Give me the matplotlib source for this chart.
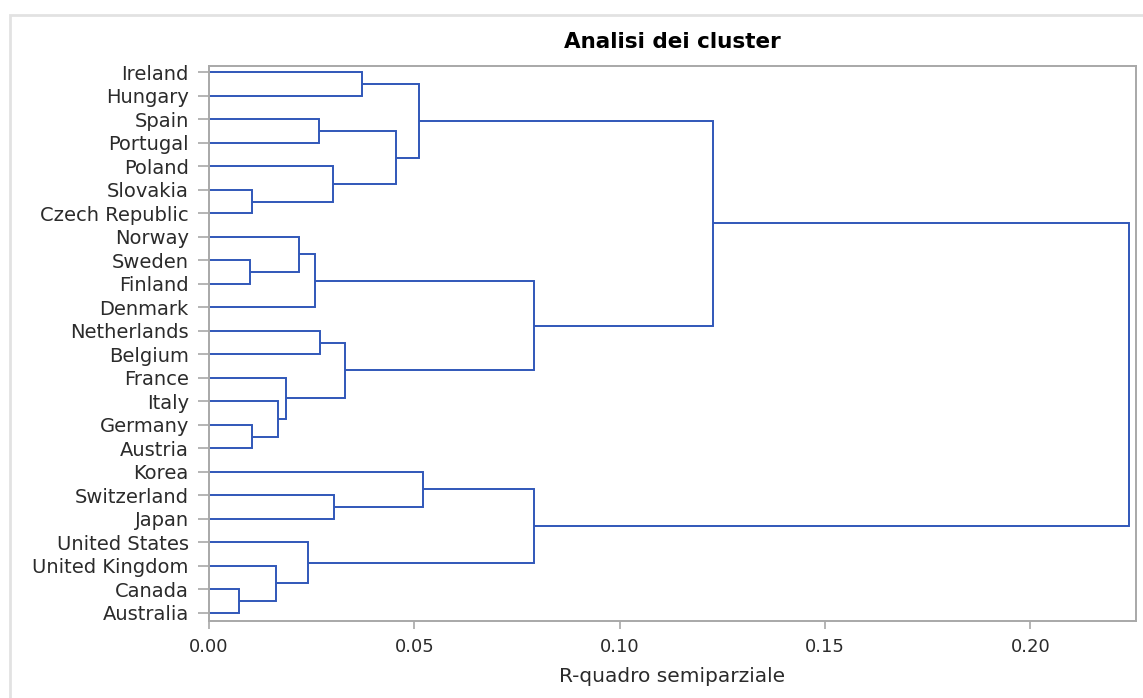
import matplotlib
matplotlib.use("Agg")
import matplotlib.pyplot as plt
from matplotlib.patches import Rectangle

# foglie, dall'alto in basso
leaves = ["Ireland", "Hungary", "Spain", "Portugal", "Poland", "Slovakia",
          "Czech Republic", "Norway", "Sweden", "Finland", "Denmark",
          "Netherlands", "Belgium", "France", "Italy", "Germany", "Austria",
          "Korea", "Switzerland", "Japan", "United States", "United Kingdom",
          "Canada", "Australia"]

# fusioni: (membro a, membro b, R-quadro semiparziale)
merge_a = ["Slovakia", "Sweden", "Germany", "Canada", "United Kingdom", "Italy",
           "France", "Norway", "United States", "C8", "Spain", "Netherlands",
           "Poland", "Switzerland", "C12", "Ireland", "C11", "C16", "Korea",
           "C10", "C19", "C18", "C22"]
merge_b = ["Czech Republic", "Finland", "Austria", "Australia", "C4", "C3",
           "C6", "C2", "C5", "Denmark", "Portugal", "Belgium", "C1", "Japan",
           "C7", "Hungary", "C13", "C17", "C14", "C15", "C9", "C20", "C21"]
merge_h = [0.0105, 0.0101, 0.0105, 0.0074, 0.0162, 0.0167, 0.0188, 0.0218,
           0.0240, 0.0258, 0.0267, 0.0271, 0.0302, 0.0304, 0.0332, 0.0372,
           0.0455, 0.0512, 0.0521, 0.0792, 0.0792, 0.1228, 0.2240]

xticks = [0.00, 0.05, 0.10, 0.15, 0.20]

line_col = "#3057b9"
grey = "#a8a8a8"
txt = "#2b2b2b"

fig = plt.figure(figsize=(11.43, 6.98), dpi=100)
fig.patches.append(Rectangle((10 / 1143, -0.5), 2, 0.5 + 1 - 15 / 698,
                             transform=fig.transFigure, fill=False,
                             edgecolor="#e2e2e2", linewidth=2))
ax = fig.add_axes([209 / 1143, 1 - 621 / 698, 927 / 1143, 555 / 698])

pos = {}
for i, name in enumerate(leaves):
    pos[name] = (0.0, i)

for k, (a, b, h) in enumerate(zip(merge_a, merge_b, merge_h)):
    xa, ya = pos[a]
    xb, yb = pos[b]
    ax.plot([xa, h, h, xb], [ya, ya, yb, yb], color=line_col, lw=1.4,
            solid_joinstyle="miter", solid_capstyle="butt")
    pos["C%d" % (k + 1)] = (h, (ya + yb) / 2)

ax.set_xlim(0, 0.2257)
ax.set_ylim(23.35, -0.27)
ax.set_yticks(range(len(leaves)))
ax.set_yticklabels(leaves, fontsize=14, color=txt)
ax.set_xticks(xticks)
ax.set_xticklabels(["%.2f" % v for v in xticks], fontsize=13, color=txt)
ax.tick_params(axis="y", length=8, width=1.2, color=grey, pad=6.5)
ax.tick_params(axis="x", length=6, width=1.2, color=grey, pad=6.5)
for s in ax.spines.values():
    s.set_color(grey)
    s.set_linewidth(1.4)

ax.set_xlabel("R-quadro semiparziale", fontsize=14.5, color=txt, labelpad=8)
ax.set_title("Analisi dei cluster", fontsize=15.5, fontweight="bold",
             color="black", pad=13)

fig.savefig("out.png", dpi=100)
